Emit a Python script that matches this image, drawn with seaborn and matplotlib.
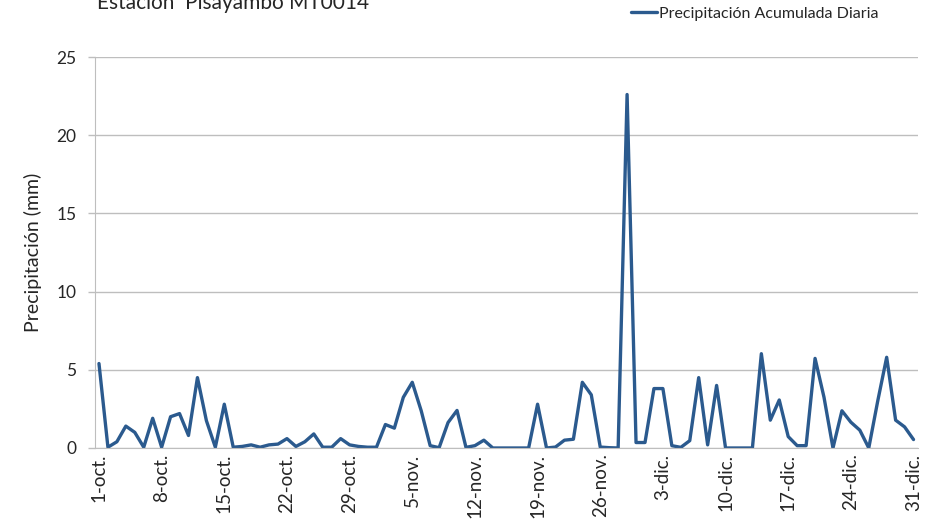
import matplotlib
matplotlib.use("Agg")
import matplotlib.pyplot as plt
import numpy as np
import pandas as pd
import seaborn as sns

# precipitación diaria (mm), 1-oct a 31-dic
oct_vals = [5.4, 0.05, 0.4, 1.4, 1.0, 0.05, 1.9, 0.05, 2.0, 2.2, 0.8, 4.5, 1.75, 0.05, 2.8, 0.05,
            0.1, 0.2, 0.05, 0.2, 0.25, 0.6, 0.1, 0.4, 0.9, 0.05, 0.05, 0.6, 0.2, 0.1, 0.05]
nov_vals = [0.05, 1.5, 1.27, 3.24, 4.2, 2.38, 0.15, 0.02, 1.63, 2.4, 0.04, 0.15, 0.5, 0.0, 0.0,
            0.0, 0.0, 0.0, 2.8, 0.0, 0.06, 0.5, 0.56, 4.2, 3.4, 0.06, 0.02, 0.0, 22.6, 0.35]
dic_vals = [0.35, 3.8, 3.8, 0.15, 0.04, 0.47, 4.5, 0.2, 4.0, 0.0, 0.0, 0.0, 0.0, 6.03, 1.78, 3.07,
            0.73, 0.15, 0.15, 5.73, 3.24, 0.0, 2.38, 1.65, 1.14, 0.0, 3.0, 5.8, 1.78, 1.35, 0.54]
precip = oct_vals + nov_vals + dic_vals
fechas = pd.date_range("2013-10-01", "2013-12-31")
meses = {10: "oct", 11: "nov", 12: "dic"}
y_ticks = [0, 5, 10, 15, 20, 25]

df = pd.DataFrame({"dia": np.arange(len(precip)), "precip": precip})
etiquetas = [f"{f.day}-{meses[f.month]}." for f in fechas]

sns.set_style("white")
plt.rcParams["font.family"] = ["Lato", "DejaVu Sans"]

fig = plt.figure(figsize=(9.38, 5.2), dpi=100)
ax = fig.add_axes([94.5 / 938, 1 - 448 / 520, (918 - 94.5) / 938, (448 - 57) / 520])

sns.lineplot(data=df, x="dia", y="precip", ax=ax, color="#2B5A8E", linewidth=2.4,
             label="Precipitación Acumulada Diaria")

ax.set_xlim(-0.5, len(precip) - 0.5)
ax.set_ylim(0, 25)
ax.set_yticks(y_ticks)
ax.set_yticklabels([str(v) for v in y_ticks], fontsize=12.5)
ax.yaxis.grid(True, color="#BEBEBE", linewidth=1)
ax.set_axisbelow(True)

sem = np.arange(0, len(precip), 7)
ax.set_xticks(sem)
ax.set_xticklabels([etiquetas[i] for i in sem], rotation=90, fontsize=13.5)
ax.set_xticks(sem - 0.5, minor=True)
ax.tick_params(axis="x", which="major", length=0, pad=4)
ax.tick_params(axis="x", which="minor", length=5, color="#BEBEBE", width=1)
ax.tick_params(axis="y", length=5, color="#BEBEBE", width=1, pad=8, left=True)

for s in ["top", "right"]:
    ax.spines[s].set_visible(False)
ax.spines["left"].set_color("#BEBEBE")
ax.spines["bottom"].set_color("#BEBEBE")

ax.set_xlabel("")
ax.set_ylabel("Precipitación (mm)", fontsize=14, labelpad=10)

ax.legend_.remove()
fig.legend(loc="center left", bbox_to_anchor=(631 / 938, 1 - 14 / 520), frameon=False,
           fontsize=11.5, handlelength=1.6, handletextpad=0.15, borderpad=0, borderaxespad=0)

fig.text(97 / 938, 1 - 9 / 520, "Estación  Pisayambo MT0014", fontsize=15, va="baseline", ha="left")

fig.savefig("out.png", dpi=100)
